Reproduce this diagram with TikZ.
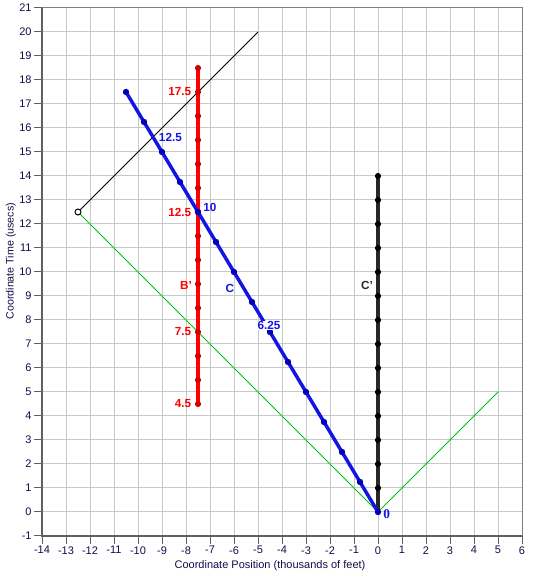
\documentclass[tikz,border=0pt]{standalone}
\usepackage{fontspec}
\setmainfont{Liberation Sans}
\newfontfamily\serifzero{Liberation Serif}
\definecolor{gridc}{HTML}{C8C8C8}
\definecolor{framec}{HTML}{808080}
\definecolor{axisc}{HTML}{606060}
\definecolor{redc}{HTML}{FF0000}
\definecolor{reddot}{HTML}{D00000}
\definecolor{bluec}{HTML}{1414E6}
\definecolor{bluedot}{HTML}{0000B4}
\definecolor{greenc}{HTML}{00C800}
\definecolor{blackc}{HTML}{282828}
\definecolor{textc}{HTML}{10104A}
\begin{document}
\begin{tikzpicture}[x=0.75pt,y=0.75pt,
  gridline/.style={draw=gridc,line width=0.75pt},
  tick/.style={draw=axisc,line width=0.75pt},
  ticklab/.style={font=\fontsize{8.25}{9}\selectfont,text=textc,inner sep=1.5pt},
  thick line/.style={line width=2.6pt},
  redlab/.style={font=\bfseries\fontsize{8.8}{9}\selectfont,text=redc,inner sep=0pt},
  bluelab/.style={font=\bfseries\fontsize{8.8}{9}\selectfont,text=bluec,inner sep=0pt},
  dotr/.style={circle,fill=reddot,inner sep=0pt,minimum size=4.6pt},
  dotb/.style={circle,fill=bluedot,inner sep=0pt,minimum size=4.8pt},
  dotk/.style={circle,fill=black,inner sep=0pt,minimum size=4.6pt}]
\useasboundingbox[fill=white] (0,0) rectangle (533,572);
\begin{scope}[shift={(283.5pt,45pt)},x=18pt,y=18pt]
  % grid
  \foreach \i in {-13,...,5} \draw[gridline] (\i,-1) -- (\i,21);
  \foreach \j in {0,...,20} \draw[gridline] (-14,\j) -- (6,\j);
  \draw[draw=framec,line width=0.75pt] (-14,21) -- (6,21) -- (6,-1);
  \draw[draw=axisc,line width=0.9pt] (-14,21) -- (-14,-1) -- (6,-1);
  % ticks and labels
  \foreach \j in {-1,...,21}
    \draw[tick] (-14,\j) -- (-14.33,\j) node[ticklab,left] {\j};
  \foreach \i in {-14,...,6}
    \draw[tick] (\i,-1) -- (\i,-1.33) node[ticklab,below] {\i};
  \node[ticklab] (xtitle) at (-4.5,-2.22) {Coordinate Position (thousands of feet)};
  \node[ticklab,rotate=90,font=\fontsize{8}{9}\selectfont] (ytitle) at (-15.3,10.45) {Coordinate Time (usecs)};
  % coordinates
  \coordinate (O) at (0,0);
  \coordinate (G1) at (-12.5,12.5);
  \coordinate (G2) at (5,5);
  \coordinate (L2) at (-5,20);
  \foreach \i in {0,...,14} {
    \coordinate (b\i) at ({-0.75*\i},{1.25*\i});
    \coordinate (r\i) at (-7.5,{4.5+\i});
    \coordinate (k\i) at (0,\i);
  }
  % green light lines
  \draw[greenc,line width=0.75pt] (G1) -- (O) -- (G2);
  % black thin line
  \draw[black,line width=0.6pt] (G1) -- (L2);
  \node[circle,draw=black,fill=white,line width=0.75pt,inner sep=0pt,minimum size=4.5pt] (G1m) at (G1) {};
  % black world line C'
  \draw[blackc,thick line] (k0) -- (k14);
  \foreach \i in {1,...,14} \node[dotk] (kd\i) at (k\i) {};
  % red world line B'
  \draw[redc,thick line] (r0) -- (r14);
  \foreach \i in {0,...,14} \node[dotr] (rd\i) at (r\i) {};
  % blue world line C
  \draw[bluec,thick line] (b0) -- (b14);
  \foreach \i in {0,...,14} \node[dotb] (bd\i) at (b\i) {};
  % labels
  \node[redlab,anchor=east] (l175) at (-7.77,17.5) {17.5};
  \node[redlab,anchor=east] (l125) at (-7.77,12.5) {12.5};
  \node[redlab,anchor=east] (l75) at (-7.77,7.5) {7.5};
  \node[redlab,anchor=east] (l45) at (-7.77,4.5) {4.5};
  \node[redlab] (lB) at (-8.0,9.45) {B'};
  \node[bluelab] (lb125) at (-8.65,15.6) {12.5};
  \node[bluelab] (lb10) at (-7.0,12.7) {10};
  \node[bluelab,fill=white,inner sep=0.6pt] (lb625) at (-4.54,7.77) {6.25};
  \node[bluelab] (lC) at (-6.17,9.3) {C};
  \node[bluelab,font=\serifzero\bfseries\fontsize{10}{10}\selectfont] (lb0) at (0.36,-0.1) {0};
  \node[redlab,text=blackc] (lCp) at (-0.46,9.45) {C'};
\end{scope}
\end{tikzpicture}
\end{document}
